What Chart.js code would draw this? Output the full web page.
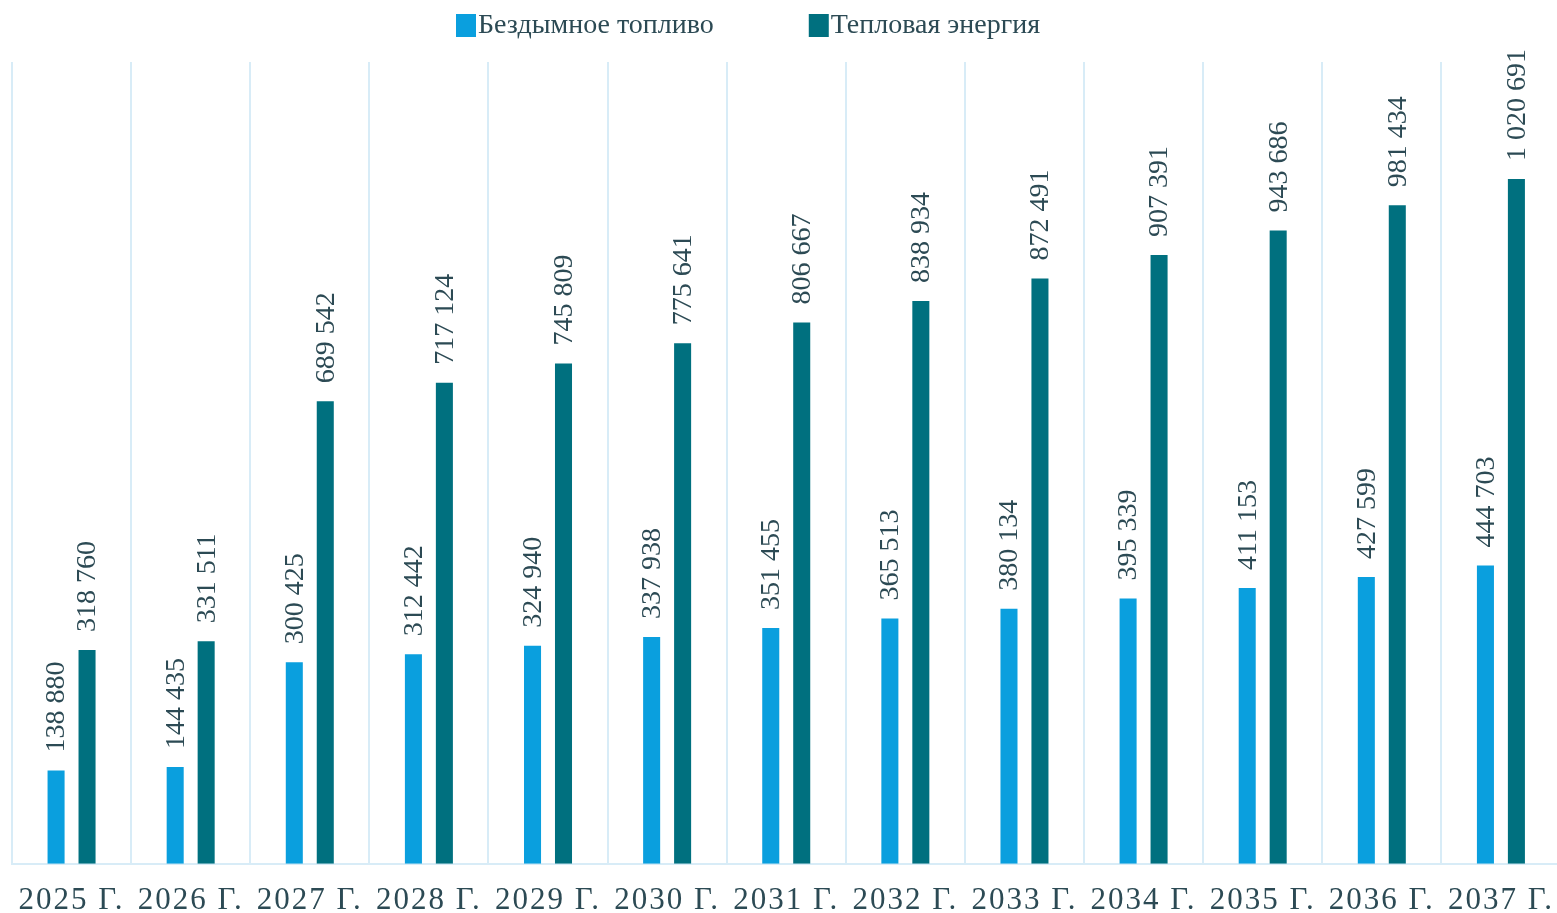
<!DOCTYPE html>
<html>
<head>
<meta charset="utf-8">
<script src="https://cdn.jsdelivr.net/npm/chart.js@4.4.1/dist/chart.umd.min.js"></script>
<style>
  body { margin: 0; background: #fff; overflow: hidden; }
  #wrap { width: 1565px; height: 913px; }
</style>
</head>
<body>
<div id="wrap"><canvas id="grafica"></canvas></div>
<script>
// Datos de la grafica
var etiquetas = ['2025 Г.', '2026 Г.', '2027 Г.', '2028 Г.', '2029 Г.', '2030 Г.', '2031 Г.',
                 '2032 Г.', '2033 Г.', '2034 Г.', '2035 Г.', '2036 Г.', '2037 Г.'];
var seriesNames = ['Бездымное топливо', 'Тепловая энергия'];
var bezdymnoe = [138880, 144435, 300425, 312442, 324940, 337938, 351455,
                 365513, 380134, 395339, 411153, 427599, 444703];
var teplovaya = [318760, 331511, 689542, 717124, 745809, 775641, 806667,
                 838934, 872491, 907391, 943686, 981434, 1020691];

var colorTexto = '#2c4a54';
var colorGrid = '#d8ecf7';
var colores = ['#0a9fde', '#00707f'];

function formato(n) {
    return String(n).replace(/\B(?=(\d{3})+(?!\d))/g, ' ');
}

// Etiquetas de valor giradas sobre cada barra
var etiquetasValor = {
    id: 'etiquetasValor',
    afterDatasetsDraw: function (chart) {
        var ctx = chart.ctx;
        chart.data.datasets.forEach(function (ds, i) {
            var meta = chart.getDatasetMeta(i);
            meta.data.forEach(function (bar, j) {
                ctx.save();
                ctx.translate(bar.x + 1, bar.y - 18);
                ctx.rotate(-Math.PI / 2);
                ctx.font = '28px "Liberation Serif"';
                ctx.fillStyle = colorTexto;
                ctx.textAlign = 'left';
                ctx.textBaseline = 'middle';
                ctx.fillText(formato(ds.data[j]), 0, 0);
                ctx.restore();
            });
        });
        // espaciado de letras para las etiquetas del eje x (se dibujan despues)
        ctx.letterSpacing = '2px';
    },
    afterDraw: function (chart) {
        var ctx = chart.ctx;
        ctx.letterSpacing = '0px';
        // Leyenda arriba
        ctx.save();
        ctx.font = '28px "Liberation Serif"';
        ctx.textBaseline = 'middle';
        ctx.textAlign = 'left';
        var x = 456;
        chart.data.datasets.forEach(function (ds) {
            ctx.fillStyle = ds.backgroundColor;
            ctx.fillRect(x, 14, 20, 23);
            ctx.fillStyle = colorTexto;
            ctx.fillText(ds.label, x + 22, 26);
            x += 22 + ctx.measureText(ds.label).width + 95;
        });
        ctx.restore();
    }
};

var ctx = document.getElementById('grafica');
window.myBar = new Chart(ctx, {
    type: 'bar',
    data: {
        labels: etiquetas,
        datasets: [
            {
                label: seriesNames[0],
                data: bezdymnoe,
                backgroundColor: colores[0],
                categoryPercentage: 0.52,
                barPercentage: 0.55
            },
            {
                label: seriesNames[1],
                data: teplovaya,
                backgroundColor: colores[1],
                categoryPercentage: 0.52,
                barPercentage: 0.55
            }
        ]
    },
    options: {
        responsive: true,
        maintainAspectRatio: false,
        animation: false,
        layout: {
            padding: { left: 12, right: 3, top: 62, bottom: -24 }
        },
        plugins: {
            legend: { display: false },
            tooltip: { enabled: false }
        },
        scales: {
            x: {
                grid: {
                    color: colorGrid,
                    lineWidth: 2,
                    drawTicks: false
                },
                border: { color: colorGrid, width: 2 },
                ticks: {
                    color: colorTexto,
                    padding: 18,
                    maxRotation: 0,
                    z: 1,
                    font: { family: '"Liberation Serif"', size: 31 }
                }
            },
            y: {
                display: false,
                min: 0,
                max: 1195000
            }
        }
    },
    plugins: [etiquetasValor]
});
</script>
</body>
</html>
